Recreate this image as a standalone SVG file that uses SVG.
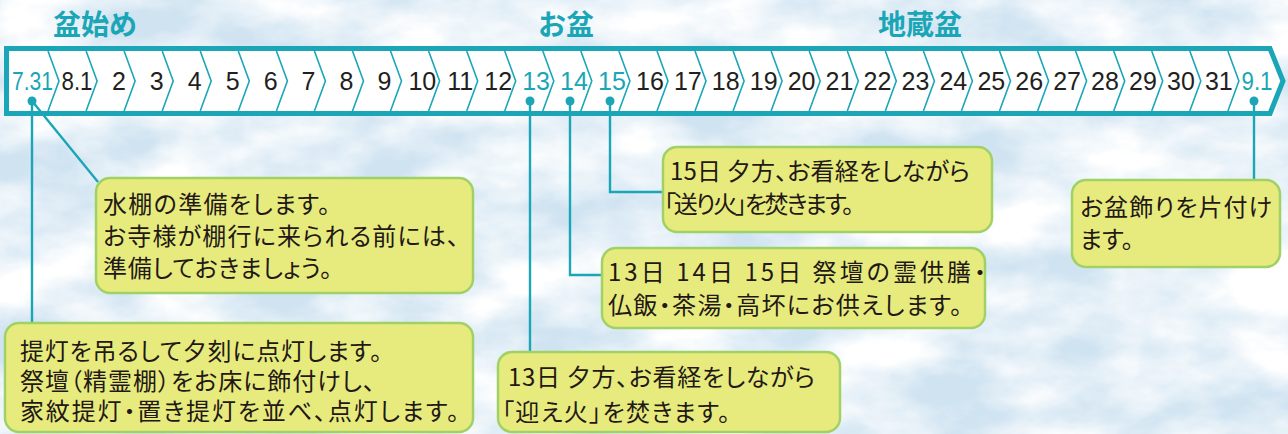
<svg xmlns="http://www.w3.org/2000/svg" width="1288" height="434" viewBox="0 0 1288 434">
<defs>
<filter id="marble" x="0" y="0" width="100%" height="100%">
<feTurbulence type="fractalNoise" baseFrequency="0.009 0.016" numOctaves="5" seed="11" result="n"/>
<feColorMatrix in="n" type="matrix" values="0 0 0 0 1  0 0 0 0 1  0 0 0 0 1  2.2 0 0 0 -0.6"/>
</filter>
<style>
.bar{fill:#ffffff;stroke:#1aa6b7;stroke-width:5}
.chev{fill:none;stroke:#1aa6b7;stroke-width:1.6}
.num{font-family:"Liberation Sans",Arial,sans-serif;font-size:25px;fill:#231f20;text-anchor:middle}
.hl{fill:#1aa6b7}
.head{font-family:"Noto Sans CJK JP",sans-serif;font-weight:bold;font-size:28px;fill:#1aa6b7}
.box{fill:#e7eb7e;stroke:#9fd166;stroke-width:2.5}
.txt{font-family:"Noto Sans CJK JP",sans-serif;font-size:24px;fill:#231815;font-feature-settings:"palt"}
.conn{fill:none;stroke:#1aa6b7;stroke-width:2.4}
.dot{fill:#1aa6b7}
</style>
</defs>
<rect width="1288" height="434" fill="#cfe3f1"/>
<rect width="1288" height="434" fill="#ffffff" filter="url(#marble)"/>

<g id="headers">
<text class="head" x="53" y="35">盆始め</text>
<text class="head" x="538" y="35">お盆</text>
<text class="head" x="878" y="35">地蔵盆</text>
</g>

<g id="timeline">
<path class="bar" d="M6.5,48.5 H1270 L1283,81 L1270,113.5 H6.5 Z"/>
<path class="chev" d="M48,51 L59,81 L48,111 M86.1,51 L97.1,81 L86.1,111 M124.1,51 L135.1,81 L124.1,111 M162.2,51 L173.2,81 L162.2,111 M200.2,51 L211.2,81 L200.2,111 M238.3,51 L249.3,81 L238.3,111 M276.4,51 L287.4,81 L276.4,111 M314.4,51 L325.4,81 L314.4,111 M352.5,51 L363.5,81 L352.5,111 M390.5,51 L401.5,81 L390.5,111 M428.6,51 L439.6,81 L428.6,111 M466.7,51 L477.7,81 L466.7,111 M504.7,51 L515.7,81 L504.7,111 M542.8,51 L553.8,81 L542.8,111 M580.8,51 L591.8,81 L580.8,111 M618.9,51 L629.9,81 L618.9,111 M657,51 L668,81 L657,111 M695,51 L706,81 L695,111 M733.1,51 L744.1,81 L733.1,111 M771.1,51 L782.1,81 L771.1,111 M809.2,51 L820.2,81 L809.2,111 M847.3,51 L858.3,81 L847.3,111 M885.3,51 L896.3,81 L885.3,111 M923.4,51 L934.4,81 L923.4,111 M961.4,51 L972.4,81 L961.4,111 M999.5,51 L1010.5,81 L999.5,111 M1037.6,51 L1048.6,81 L1037.6,111 M1075.6,51 L1086.6,81 L1075.6,111 M1113.7,51 L1124.7,81 L1113.7,111 M1151.7,51 L1162.7,81 L1151.7,111 M1189.8,51 L1200.8,81 L1189.8,111 M1227.9,51 L1238.9,81 L1227.9,111"/>
<text class="num hl" x="32.5" y="90" textLength="41" lengthAdjust="spacingAndGlyphs">7.31</text>
<text class="num" x="77" y="90" textLength="31" lengthAdjust="spacingAndGlyphs">8.1</text>
<text class="num" x="118.9" y="90">2</text>
<text class="num" x="156.8" y="90">3</text>
<text class="num" x="194.7" y="90">4</text>
<text class="num" x="232.7" y="90">5</text>
<text class="num" x="270.6" y="90">6</text>
<text class="num" x="308.5" y="90">7</text>
<text class="num" x="346.4" y="90">8</text>
<text class="num" x="384.4" y="90">9</text>
<text class="num" x="422.3" y="90">10</text>
<text class="num" x="460.2" y="90">11</text>
<text class="num" x="498.2" y="90">12</text>
<text class="num hl" x="536.1" y="90">13</text>
<text class="num hl" x="574" y="90">14</text>
<text class="num hl" x="612" y="90">15</text>
<text class="num" x="649.9" y="90">16</text>
<text class="num" x="687.8" y="90">17</text>
<text class="num" x="725.7" y="90">18</text>
<text class="num" x="763.7" y="90">19</text>
<text class="num" x="801.6" y="90">20</text>
<text class="num" x="839.5" y="90">21</text>
<text class="num" x="877.5" y="90">22</text>
<text class="num" x="915.4" y="90">23</text>
<text class="num" x="953.3" y="90">24</text>
<text class="num" x="991.3" y="90">25</text>
<text class="num" x="1029.2" y="90">26</text>
<text class="num" x="1067.1" y="90">27</text>
<text class="num" x="1105" y="90">28</text>
<text class="num" x="1143" y="90">29</text>
<text class="num" x="1180.9" y="90">30</text>
<text class="num" x="1218.8" y="90">31</text>
<text class="num hl" x="1257" y="90" textLength="31" lengthAdjust="spacingAndGlyphs">9.1</text>
</g>

<g id="connectors">
<path class="conn" d="M32,101 L98,182"/>
<path class="conn" d="M32,101 V323"/>
<path class="conn" d="M530,101 V352"/>
<path class="conn" d="M570,101 V275 H602"/>
<path class="conn" d="M610,101 V192 H663"/>
<path class="conn" d="M1254,101 V180"/>
<circle class="dot" cx="32" cy="101" r="4.5"/>
<circle class="dot" cx="530" cy="101" r="4.5"/>
<circle class="dot" cx="570" cy="101" r="4.5"/>
<circle class="dot" cx="610" cy="101" r="4.5"/>
<circle class="dot" cx="1254" cy="101" r="4.5"/>
</g>

<g id="box-mizudana">
<rect class="box" x="96" y="178" width="377" height="115" rx="14"/>
<text class="txt" x="103" y="213" textLength="227" lengthAdjust="spacing">水棚の準備をします。</text>
<text class="txt" x="103" y="245" textLength="356" lengthAdjust="spacing">お寺様が棚行に来られる前には、</text>
<text class="txt" x="103" y="277" textLength="229" lengthAdjust="spacing">準備しておきましょう。</text>
</g>

<g id="box-chochin">
<rect class="box" x="5" y="323" width="468" height="109" rx="14"/>
<text class="txt"><tspan x="20" y="360" textLength="362" lengthAdjust="spacing">提灯を吊るして夕刻に点灯します。</tspan><tspan x="20" y="390" textLength="355" lengthAdjust="spacing">祭壇（精霊棚）をお床に飾付けし、</tspan><tspan x="20" y="420" textLength="439" lengthAdjust="spacing">家紋提灯・置き提灯を並べ、点灯します。</tspan></text>
</g>

<g id="box-okuribi">
<rect class="box" x="663" y="147" width="329" height="85" rx="14"/>
<text class="txt" x="670" y="180" textLength="300" lengthAdjust="spacing">15日 夕方、お看経をしながら</text>
<text class="txt" x="664" y="213" textLength="190" lengthAdjust="spacing">「送り火」を焚きます。</text>
</g>

<g id="box-kuyo">
<rect class="box" x="602" y="248" width="383" height="80" rx="14"/>
<text class="txt" x="608" y="281" textLength="378" lengthAdjust="spacing">13日 14日 15日 祭壇の霊供膳・</text>
<text class="txt" x="608" y="314" textLength="354" lengthAdjust="spacing">仏飯・茶湯・高坏にお供えします。</text>
</g>

<g id="box-mukaebi">
<rect class="box" x="498" y="352" width="342" height="80" rx="14"/>
<text class="txt" x="508" y="386" textLength="307" lengthAdjust="spacing">13日 夕方、お看経をしながら</text>
<text class="txt" x="502" y="421" textLength="228" lengthAdjust="spacing">「迎え火」を焚きます。</text>
</g>

<g id="box-katazuke">
<rect class="box" x="1072" y="180" width="208" height="87" rx="14"/>
<text class="txt" x="1080" y="216" textLength="192" lengthAdjust="spacing">お盆飾りを片付け</text>
<text class="txt" x="1080" y="248">ます。</text>
</g>
</svg>
